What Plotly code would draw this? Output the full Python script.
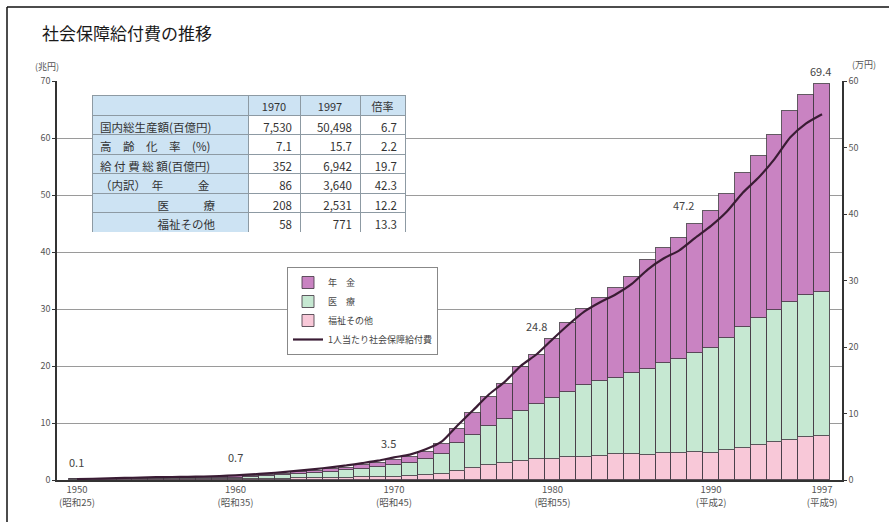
import plotly.graph_objects as go

# 年度
years = list(range(1950, 1998))

# 部門別社会保障給付費（兆円）
welfare = [0.056, 0.073, 0.099, 0.116, 0.124, 0.111, 0.112, 0.112, 0.122, 0.129,
           0.145, 0.18, 0.21, 0.25, 0.30, 0.329, 0.368, 0.411, 0.466, 0.518,
           0.610, 0.691, 0.801, 0.999, 1.521, 2.183, 2.595, 3.057, 3.286, 3.611,
           3.602, 3.970, 4.115, 4.256, 4.498, 4.480, 4.449, 4.675, 4.779, 4.962,
           4.802, 5.2, 5.6, 6.1, 6.6, 7.1, 7.5, 7.7]
medical = [0.065, 0.076, 0.105, 0.135, 0.150, 0.176, 0.185, 0.200, 0.222, 0.250,
           0.294, 0.370, 0.470, 0.590, 0.740, 0.914, 1.08, 1.26, 1.50, 1.74,
           2.058, 2.25, 2.85, 3.63, 4.95, 5.71, 6.84, 7.59, 8.86, 9.64,
           10.71, 11.55, 12.49, 13.09, 13.38, 14.23, 15.10, 15.79, 16.41, 17.24,
           18.37, 19.7, 21.3, 22.3, 23.2, 24.2, 25.0, 25.3]
pension = [0.005, 0.008, 0.012, 0.027, 0.040, 0.102, 0.110, 0.124, 0.145, 0.175,
           0.216, 0.24, 0.27, 0.30, 0.33, 0.361, 0.44, 0.52, 0.61, 0.72,
           0.856, 1.07, 1.29, 1.63, 2.55, 3.88, 5.14, 6.24, 7.63, 8.70,
           10.48, 12.01, 13.45, 14.58, 15.73, 16.97, 18.97, 20.26, 21.23, 22.69,
           24.05, 25.2, 26.9, 28.4, 30.7, 33.4, 35.0, 36.4]

# 1人当たり社会保障給付費（万円）
per_capita = [0.15, 0.19, 0.25, 0.32, 0.36, 0.44, 0.45, 0.48, 0.53, 0.60,
              0.70, 0.84, 1.00, 1.19, 1.41, 1.63, 1.91, 2.19, 2.54, 2.91,
              3.40, 3.82, 4.61, 5.76, 8.19, 10.52, 12.89, 14.79, 17.17, 18.91,
              21.17, 23.35, 25.32, 26.72, 27.94, 29.49, 31.65, 33.30, 34.54, 36.41,
              38.21, 40.37, 43.20, 45.50, 48.26, 51.53, 53.63, 55.00]

# 目盛り
tick_years = [1950, 1960, 1970, 1980, 1990, 1997]
tick_texts = ["1950<br>(昭和25)", "1960<br>(昭和35)", "1970<br>(昭和45)",
              "1980<br>(昭和55)", "1990<br>(平成2)", "1997<br>(平成9)"]

# 数値を記す年度
label_years = [1950, 1960, 1970, 1980, 1990, 1997]

# 表
table_header = ["", "1970", "1997", "倍率"]
table_rows = ["国内総生産額(百億円)", "高　齢　化　率　(%)", "給 付 費 総 額(百億円)",
              "（内訳）　年　　　金", "　　　　　医　　　療", "　　　　　福祉その他"]
table_1970 = ["7,530", "7.1", "352", "86", "208", "58"]
table_1997 = ["50,498", "15.7", "6,942", "3,640", "2,531", "771"]
table_ratio = ["6.7", "2.2", "19.7", "42.3", "12.2", "13.3"]

FONT = "Noto Sans CJK JP"
C_PENSION = "#c983c2"
C_MEDICAL = "#c6e8d2"
C_WELFARE = "#f8c8d8"
C_LINE = "#3a1c34"
C_TABLE = "#cde3f3"

# 描画領域（ピクセル）
W, H = 889, 522
L, R, T, B = 57, 47, 81, 42
PW, PH = W - L - R, H - T - B


def px_x(px):
    return (px - L) / PW


def px_y(py):
    return (H - B - py) / PH


fig = go.Figure()

bar_line = dict(color="rgba(70,60,70,0.85)", width=1)
fig.add_trace(go.Bar(x=years, y=welfare, name="福祉その他", marker=dict(color=C_WELFARE, line=bar_line), legendrank=3))
fig.add_trace(go.Bar(x=years, y=medical, name="医　療", marker=dict(color=C_MEDICAL, line=bar_line), legendrank=2))
fig.add_trace(go.Bar(x=years, y=pension, name="年　金", marker=dict(color=C_PENSION, line=bar_line), legendrank=1))
fig.add_trace(go.Scatter(x=years, y=per_capita, yaxis="y2", mode="lines", name="1人当たり社会保障給付費",
                         line=dict(color=C_LINE, width=2.2, shape="spline", smoothing=0.6), legendrank=4))

# 表
n = len(table_rows)
fig.add_trace(go.Table(
    domain=dict(x=[px_x(92), px_x(405)], y=[px_y(232), px_y(95)]),
    columnwidth=[156, 52, 60, 45],
    header=dict(values=table_header, fill_color=C_TABLE, line_color="#8d9aa3", line_width=1,
                align="center", height=20, font=dict(family=FONT, size=11, color="#333")),
    cells=dict(values=[table_rows, table_1970, table_1997, table_ratio],
               fill_color=[[C_TABLE] * n, ["white"] * n, ["white"] * n, ["white"] * n],
               line_color="#8d9aa3", line_width=1, height=19.5,
               align=["left", "right", "right", "right"],
               font=dict(family=FONT, size=11.5, color="#333")),
))

annotations = []
totals = {y: w + m + p for y, w, m, p in zip(years, welfare, medical, pension)}
label_pos = {1950: (0, 7), 1960: (0, 9), 1970: (-6, 7), 1980: (-16, 3), 1990: (-28, -4), 1997: (-2, 3)}
for yr in label_years:
    dx, dy = label_pos[yr]
    annotations.append(dict(x=yr, y=totals[yr], xref="x", yref="y", text=f"{totals[yr]:.1f}",
                            showarrow=False, xshift=dx, yshift=dy, yanchor="bottom",
                            font=dict(family=FONT, size=11, color="#444")))

annotations += [
    dict(x=px_x(40), y=px_y(32), xref="paper", yref="paper", text="社会保障給付費の推移",
         showarrow=False, xanchor="left", yanchor="middle", font=dict(family=FONT, size=17, color="#1a1a1a")),
    dict(x=px_x(47), y=px_y(67), xref="paper", yref="paper", text="(兆円)",
         showarrow=False, xanchor="center", yanchor="middle", font=dict(family=FONT, size=9, color="#555")),
    dict(x=px_x(864), y=px_y(64), xref="paper", yref="paper", text="(万円)",
         showarrow=False, xanchor="center", yanchor="middle", font=dict(family=FONT, size=9, color="#555")),
]

shapes = [
    dict(type="line", xref="paper", yref="paper", x0=px_x(7), x1=px_x(889), y0=px_y(7), y1=px_y(7),
         line=dict(color="#111", width=1.5)),
    dict(type="line", xref="paper", yref="paper", x0=px_x(7), x1=px_x(7), y0=px_y(7), y1=px_y(522),
         line=dict(color="#111", width=1.5)),
]

fig.update_layout(
    width=W, height=H, autosize=False,
    margin=dict(l=L, r=R, t=T, b=B, pad=0),
    paper_bgcolor="white", plot_bgcolor="white",
    barmode="stack", bargap=0,
    font=dict(family=FONT, size=9, color="#444"),
    xaxis=dict(range=[1948.74, 1998.26], tickmode="array", tickvals=tick_years, ticktext=tick_texts,
               showgrid=False, showline=True, linecolor="#333", linewidth=1.5, ticks="",
               tickfont=dict(size=9.5, color="#555"), zeroline=False),
    yaxis=dict(range=[0, 70], dtick=10, showgrid=True, gridcolor="#9a9a9a", gridwidth=1,
               showline=True, linecolor="#333", linewidth=1.5, ticks="outside", ticklen=3,
               tickcolor="#333", tickfont=dict(size=9, color="#555"), zeroline=False),
    yaxis2=dict(range=[0, 60], dtick=10, overlaying="y", side="right", showgrid=False,
                showline=True, linecolor="#333", linewidth=1.5, ticks="outside", ticklen=3,
                tickcolor="#333", tickfont=dict(size=9, color="#555"), zeroline=False),
    legend=dict(x=px_x(287), y=px_y(267), xanchor="left", yanchor="top", bgcolor="white",
                bordercolor="#888", borderwidth=1, font=dict(family=FONT, size=9, color="#444"),
                itemwidth=30, tracegroupgap=0, traceorder="normal"),
    showlegend=True,
    annotations=annotations,
    shapes=shapes,
)

fig.write_html("out.html")
